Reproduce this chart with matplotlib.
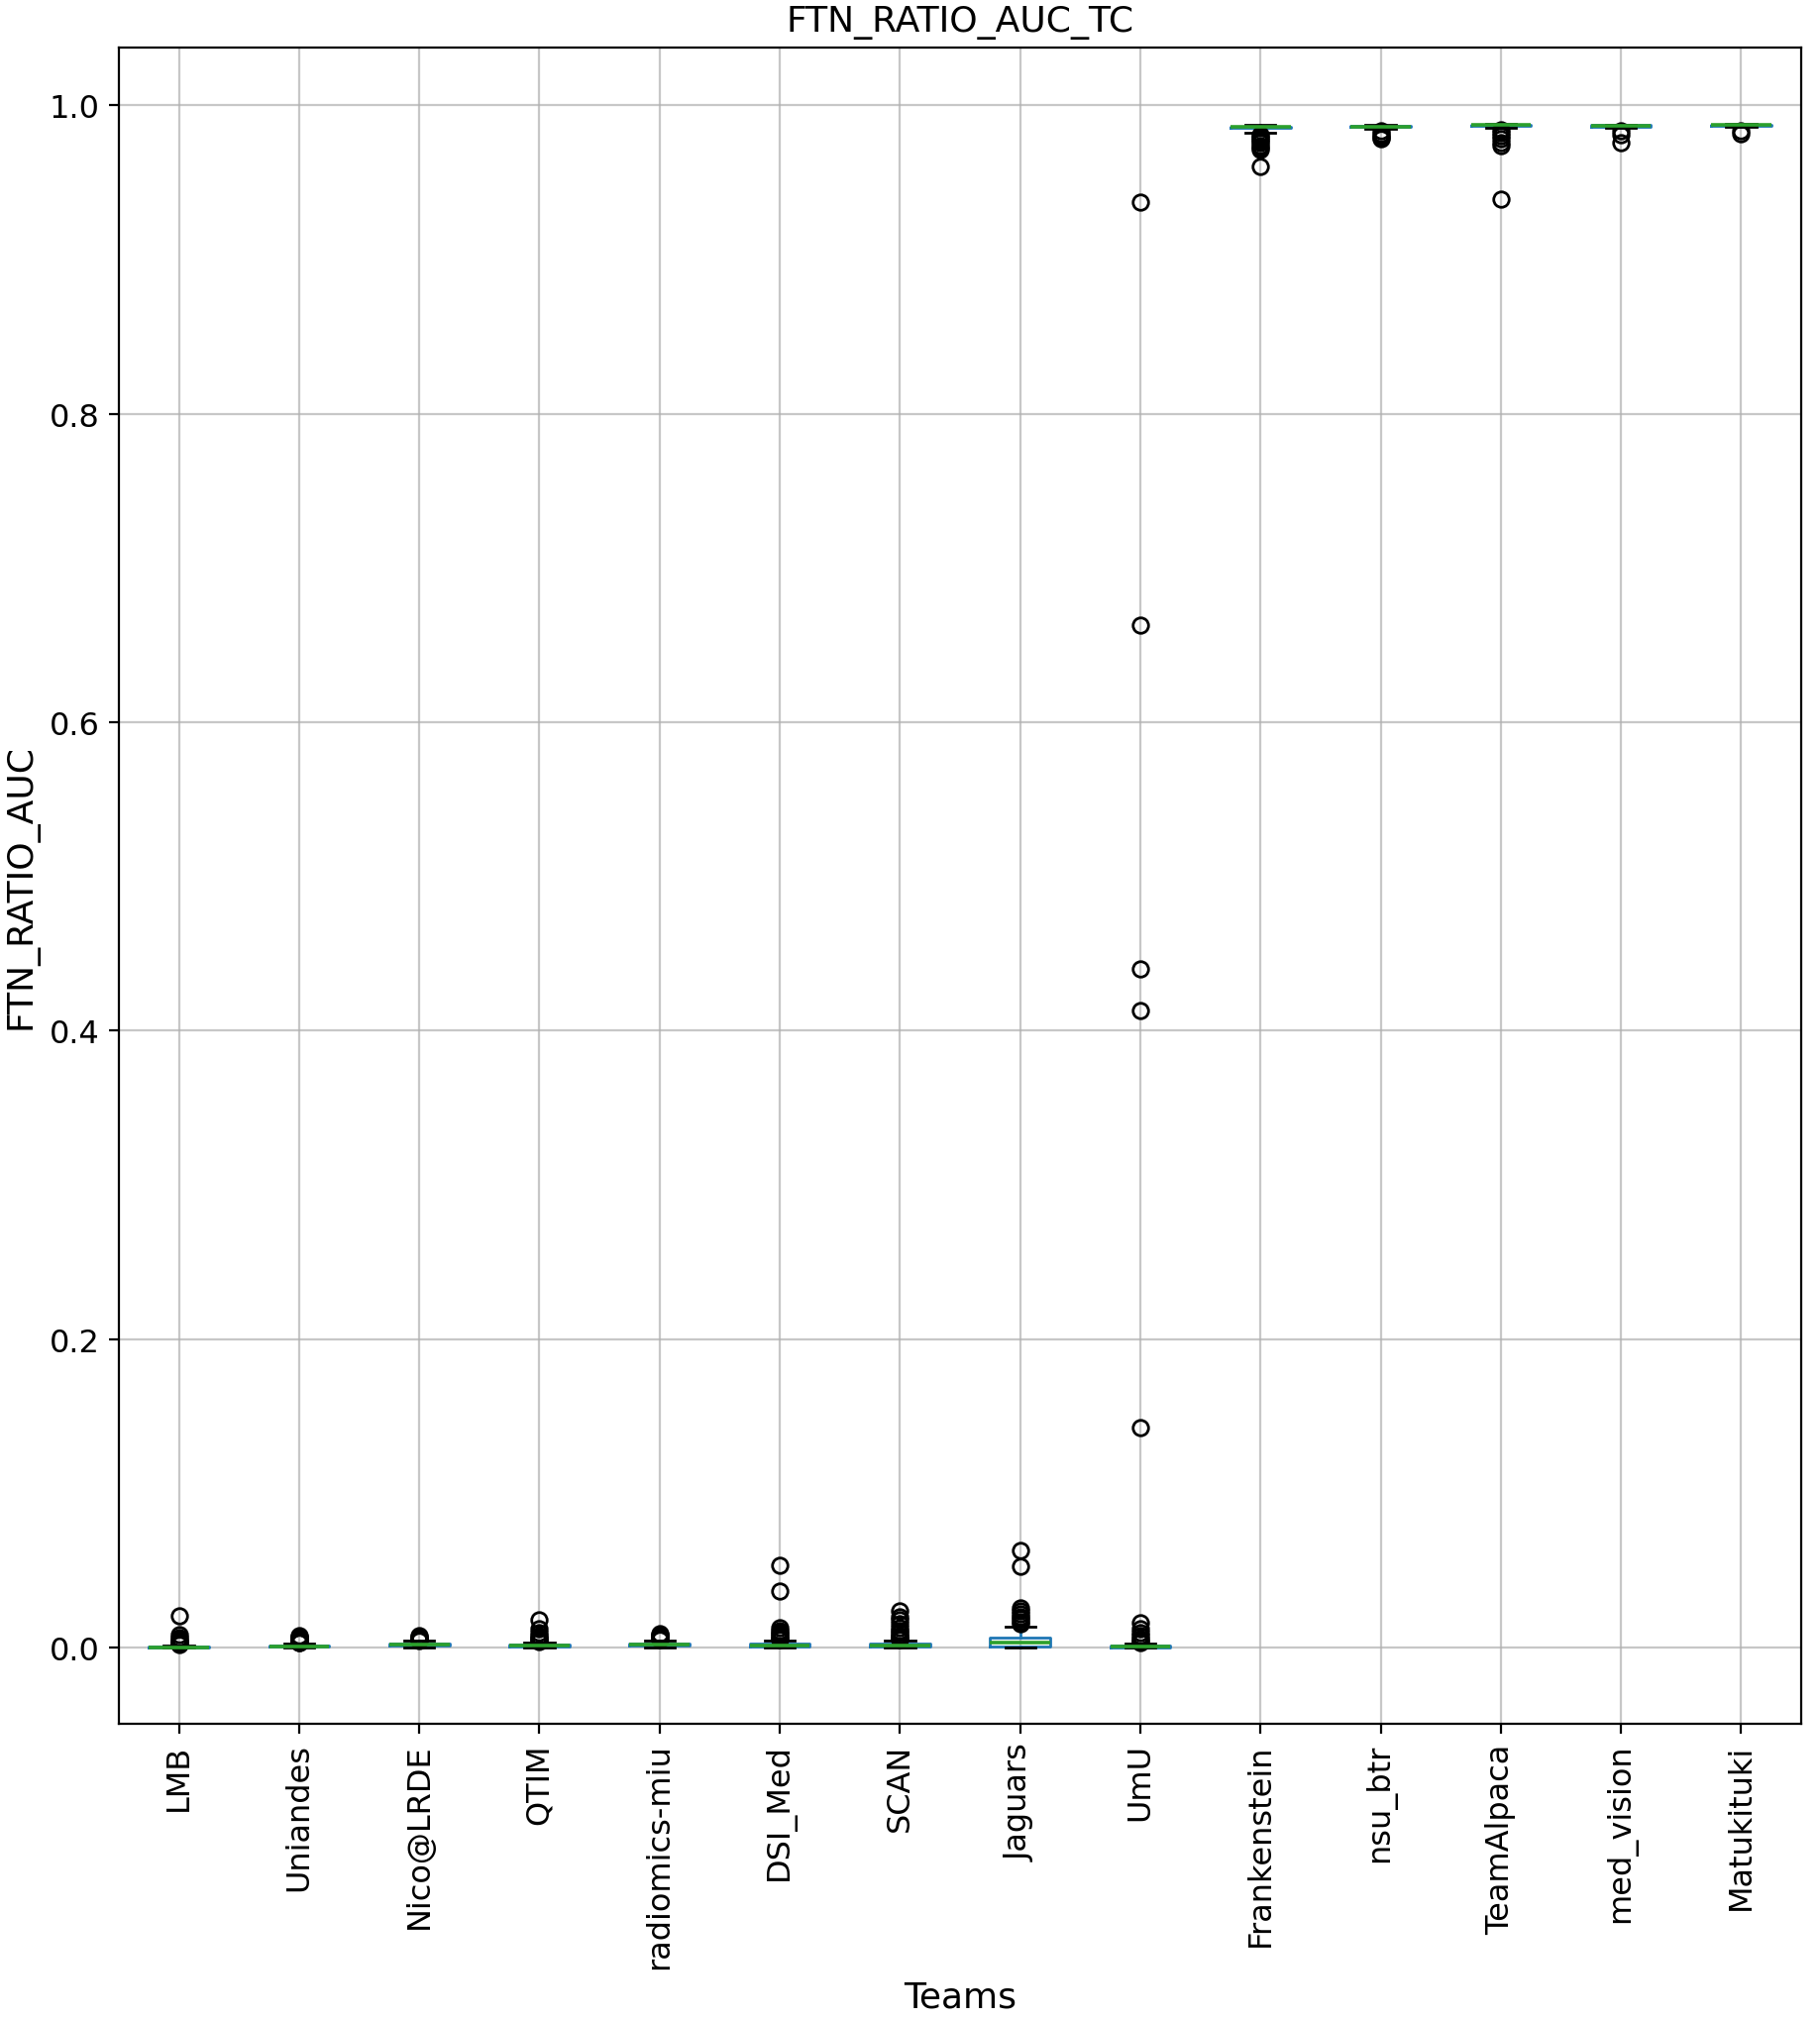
import matplotlib
matplotlib.use("Agg")
import matplotlib.pyplot as plt

teams = ["LMB", "Uniandes", "Nico@LRDE", "QTIM", "radiomics-miu", "DSI_Med", "SCAN",
         "Jaguars", "UmU", "Frankenstein", "nsu_btr", "TeamAlpaca", "med_vision", "Matukituki"]

q1 = [0.0001, 0.0004, 0.0012, 0.0005, 0.0012, 0.0008, 0.0008,
      0.0006, 0.0002, 0.9852, 0.9858, 0.9865, 0.9862, 0.9866]
medians = [0.0003, 0.0008, 0.0018, 0.0010, 0.0018, 0.0015, 0.0015,
           0.0035, 0.0006, 0.9857, 0.9863, 0.9870, 0.9866, 0.9870]
q3 = [0.0008, 0.0013, 0.0025, 0.0018, 0.0026, 0.0024, 0.0025,
      0.0062, 0.0012, 0.9862, 0.9868, 0.9875, 0.9870, 0.9873]
whislo = [0.0, 0.0, 0.0002, 0.0, 0.0003, 0.0, 0.0,
          0.0, 0.0, 0.9820, 0.9850, 0.9855, 0.9855, 0.9860]
whishi = [0.0015, 0.0025, 0.0042, 0.0035, 0.0047, 0.0047, 0.0047,
          0.0133, 0.0025, 0.9870, 0.9875, 0.9880, 0.9875, 0.9878]

fliers_lmb = [0.0203, 0.0085, 0.0065, 0.0050, 0.0040, 0.0030, 0.0025, 0.0020]
fliers_uniandes = [0.0078, 0.0070, 0.0062, 0.0055, 0.0048, 0.0040, 0.0034, 0.0030]
fliers_nico = [0.0078, 0.0070, 0.0063, 0.0056, 0.0050, 0.0046]
fliers_qtim = [0.0178, 0.0125, 0.0096, 0.0080, 0.0065, 0.0055, 0.0045, 0.0040]
fliers_radiomics = [0.0090, 0.0082, 0.0075, 0.0068, 0.0060, 0.0053]
fliers_dsi = [0.0535, 0.0364, 0.0128, 0.0110, 0.0095, 0.0082, 0.0070, 0.0060, 0.0053]
fliers_scan = [0.0235, 0.0200, 0.0180, 0.0155, 0.0130, 0.0110, 0.0095, 0.0080, 0.0068, 0.0058, 0.0052]
fliers_jaguars = [0.0630, 0.0530, 0.0257, 0.0240, 0.0220, 0.0200, 0.0185, 0.0170, 0.0155]
fliers_umu = [0.9374, 0.6628, 0.4399, 0.4132, 0.1427, 0.0160, 0.0125, 0.0095, 0.0075, 0.0060, 0.0045, 0.0035]
fliers_frankenstein = [0.9600, 0.9710, 0.9725, 0.9740, 0.9755, 0.9770, 0.9780, 0.9795, 0.9810]
fliers_nsu = [0.9835, 0.9815, 0.9800, 0.9790, 0.9780]
fliers_alpaca = [0.9388, 0.9738, 0.9760, 0.9780, 0.9800, 0.9820, 0.9840]
fliers_medvision = [0.9755, 0.9810, 0.9835]
fliers_matukituki = [0.9815, 0.9835]

fliers = [fliers_lmb, fliers_uniandes, fliers_nico, fliers_qtim, fliers_radiomics,
          fliers_dsi, fliers_scan, fliers_jaguars, fliers_umu, fliers_frankenstein,
          fliers_nsu, fliers_alpaca, fliers_medvision, fliers_matukituki]

stats = []
for i, t in enumerate(teams):
    stats.append(dict(label=t, med=medians[i], q1=q1[i], q3=q3[i],
                      whislo=whislo[i], whishi=whishi[i], fliers=fliers[i]))

fig = plt.figure(figsize=(1837 / 200, 2040 / 200), dpi=200)
ax = fig.add_axes([0.0653, 0.1466, 0.9897 - 0.0653, 0.976 - 0.1466])

ax.bxp(stats, positions=range(1, len(teams) + 1), widths=0.5,
       boxprops=dict(color="#1f77b4"),
       whiskerprops=dict(color="#1f77b4"),
       medianprops=dict(color="#2ca02c", linewidth=1.3),
       capprops=dict(color="k"),
       flierprops=dict(marker="o", markersize=5.6, markerfacecolor="none", markeredgecolor="k"))

ax.grid(True, color="#b0b0b0", linewidth=0.8, alpha=0.7)
ax.set_axisbelow(True)
ax.set_xlim(0.5, len(teams) + 0.5)
ax.set_xticks(range(1, len(teams) + 1))
ax.set_xticklabels(teams, rotation=90, fontsize=11.5)
ax.tick_params(axis="y", labelsize=11.5)
ax.set_title("FTN_RATIO_AUC_TC", fontsize=13)
ax.set_xlabel("Teams", fontsize=13)
ax.set_ylabel("FTN_RATIO_AUC", fontsize=13)

fig.savefig("out.png", dpi=200)
